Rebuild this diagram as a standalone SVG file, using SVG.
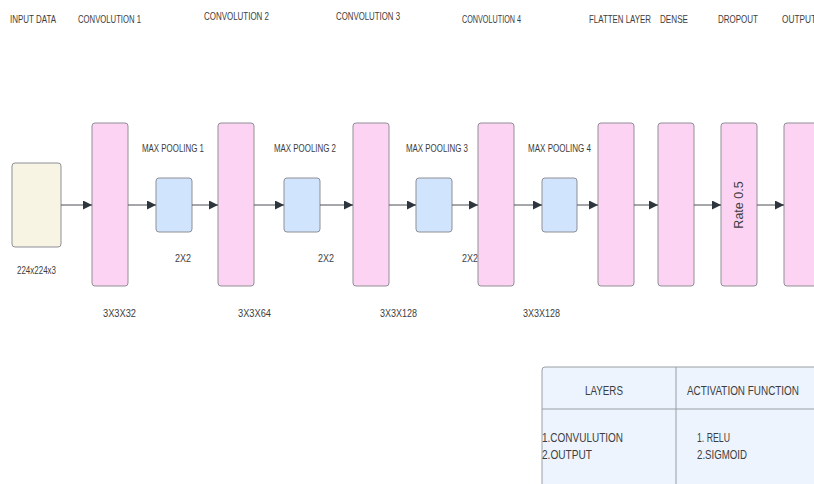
<svg xmlns="http://www.w3.org/2000/svg" width="814" height="484" viewBox="0 0 814 484">
<defs>
<style>
.t{font-family:"Liberation Sans",Arial,sans-serif;font-size:11px;fill:#3d3d3d}
.conv{fill:#fdd3f4;stroke:#8f8f96;stroke-width:1}
.pool{fill:#d1e4fd;stroke:#8f8f96;stroke-width:1}
.inp{fill:#f8f4e4;stroke:#8f8f96;stroke-width:1}
.c{stroke:#4a4f57;stroke-width:1;fill:none;marker-end:url(#ah)}
</style>
<marker id="ah" viewBox="0 0 10 10" refX="10" refY="5" markerWidth="9" markerHeight="9" markerUnits="userSpaceOnUse" orient="auto">
<path d="M0,0 L10,5 L0,10 z" fill="#2f353d"/>
</marker>
</defs>
<rect width="814" height="484" fill="#ffffff"/>

<g id="headers">
<text class="t" x="10" y="23" textLength="46" lengthAdjust="spacingAndGlyphs">INPUT DATA</text>
<text class="t" x="78" y="23" textLength="63" lengthAdjust="spacingAndGlyphs">CONVOLUTION 1</text>
<text class="t" x="204" y="20" textLength="65" lengthAdjust="spacingAndGlyphs">CONVOLUTION 2</text>
<text class="t" x="336" y="20" textLength="64" lengthAdjust="spacingAndGlyphs">CONVOLUTION 3</text>
<text class="t" x="462" y="23" textLength="59" lengthAdjust="spacingAndGlyphs">CONVOLUTION 4</text>
<text class="t" x="589" y="23" textLength="62" lengthAdjust="spacingAndGlyphs">FLATTEN LAYER</text>
<text class="t" x="660" y="23" textLength="28" lengthAdjust="spacingAndGlyphs">DENSE</text>
<text class="t" x="718" y="23" textLength="40" lengthAdjust="spacingAndGlyphs">DROPOUT</text>
<text class="t" x="782" y="23" textLength="34" lengthAdjust="spacingAndGlyphs">OUTPUT</text>
</g>

<g id="input">
<rect class="inp" x="12" y="163" width="49" height="84" rx="3"/>
<text class="t" x="17" y="274" textLength="39" lengthAdjust="spacingAndGlyphs">224x224x3</text>
</g>

<g id="conv1">
<rect class="conv" x="92" y="123" width="36" height="163" rx="3"/>
<text class="t" x="103" y="317" textLength="33" lengthAdjust="spacingAndGlyphs">3X3X32</text>
</g>
<g id="pool1">
<rect class="pool" x="156" y="178" width="36" height="54" rx="3"/>
<text class="t" x="142" y="152" textLength="62" lengthAdjust="spacingAndGlyphs">MAX POOLING 1</text>
<text class="t" x="175" y="262" textLength="16" lengthAdjust="spacingAndGlyphs">2X2</text>
</g>
<g id="conv2">
<rect class="conv" x="218" y="123" width="36" height="163" rx="3"/>
<text class="t" x="238" y="317" textLength="33" lengthAdjust="spacingAndGlyphs">3X3X64</text>
</g>
<g id="pool2">
<rect class="pool" x="284" y="178" width="36" height="54" rx="3"/>
<text class="t" x="274" y="152" textLength="62" lengthAdjust="spacingAndGlyphs">MAX POOLING 2</text>
<text class="t" x="318" y="262" textLength="16" lengthAdjust="spacingAndGlyphs">2X2</text>
</g>
<g id="conv3">
<rect class="conv" x="353" y="123" width="36" height="163" rx="3"/>
<text class="t" x="380" y="317" textLength="37" lengthAdjust="spacingAndGlyphs">3X3X128</text>
</g>
<g id="pool3">
<rect class="pool" x="416" y="178" width="36" height="54" rx="3"/>
<text class="t" x="406" y="152" textLength="62" lengthAdjust="spacingAndGlyphs">MAX POOLING 3</text>
<text class="t" x="462" y="262" textLength="16" lengthAdjust="spacingAndGlyphs">2X2</text>
</g>
<g id="conv4">
<rect class="conv" x="478" y="123" width="36" height="163" rx="3"/>
<text class="t" x="523" y="317" textLength="37" lengthAdjust="spacingAndGlyphs">3X3X128</text>
</g>
<g id="pool4">
<rect class="pool" x="542" y="178" width="35" height="54" rx="3"/>
<text class="t" x="528" y="152" textLength="63" lengthAdjust="spacingAndGlyphs">MAX POOLING 4</text>
</g>
<g id="flatten">
<rect class="conv" x="598" y="123" width="36" height="163" rx="3"/>
</g>
<g id="dense">
<rect class="conv" x="658" y="123" width="36" height="163" rx="3"/>
</g>
<g id="dropout">
<rect class="conv" x="721" y="123" width="36" height="163" rx="3"/>
<text x="743" y="205" transform="rotate(-90 743 205)" text-anchor="middle" font-family="Liberation Sans,Arial,sans-serif" font-size="12.5" fill="#3d3d3d">Rate 0.5</text>
</g>
<g id="output">
<rect class="conv" x="784" y="123" width="40" height="163" rx="3"/>
</g>

<g id="connectors">
<line class="c" x1="61" y1="205" x2="92" y2="205"/>
<line class="c" x1="128" y1="205" x2="156" y2="205"/>
<line class="c" x1="192" y1="205" x2="218" y2="205"/>
<line class="c" x1="254" y1="205" x2="284" y2="205"/>
<line class="c" x1="320" y1="205" x2="353" y2="205"/>
<line class="c" x1="389" y1="205" x2="416" y2="205"/>
<line class="c" x1="452" y1="205" x2="478" y2="205"/>
<line class="c" x1="514" y1="205" x2="542" y2="205"/>
<line class="c" x1="577" y1="205" x2="598" y2="205"/>
<line class="c" x1="634" y1="205" x2="658" y2="205"/>
<line class="c" x1="694" y1="205" x2="721" y2="205"/>
<line class="c" x1="757" y1="205" x2="784" y2="205"/>
</g>

<g id="table">
<rect x="542" y="367" width="290" height="130" rx="3" fill="#edf4fd" stroke="#9a9ea6" stroke-width="1"/>
<line x1="676" y1="367" x2="676" y2="484" stroke="#9a9ea6" stroke-width="1"/>
<line x1="542" y1="409" x2="814" y2="409" stroke="#9a9ea6" stroke-width="1"/>
<text class="t" x="585" y="395" textLength="38" lengthAdjust="spacingAndGlyphs" style="font-size:12px">LAYERS</text>
<text class="t" x="687" y="395" textLength="112" lengthAdjust="spacingAndGlyphs" style="font-size:12px">ACTIVATION FUNCTION</text>
<text class="t" x="542" y="442" textLength="81" lengthAdjust="spacingAndGlyphs" style="font-size:12px">1.CONVULUTION</text>
<text class="t" x="542" y="459" textLength="50" lengthAdjust="spacingAndGlyphs" style="font-size:12px">2.OUTPUT</text>
<text class="t" x="697" y="442" textLength="33" lengthAdjust="spacingAndGlyphs" style="font-size:12px">1. RELU</text>
<text class="t" x="697" y="459" textLength="50" lengthAdjust="spacingAndGlyphs" style="font-size:12px">2.SIGMOID</text>
</g>
</svg>
